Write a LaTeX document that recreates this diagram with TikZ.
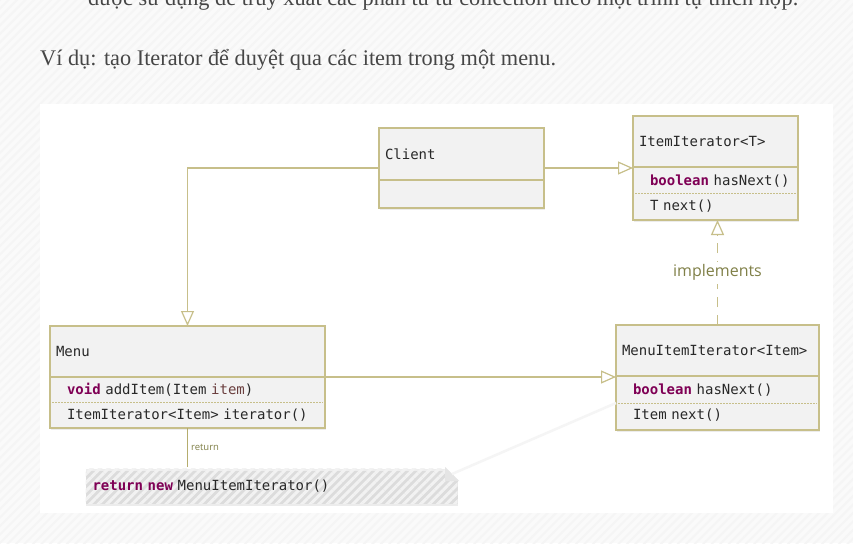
\documentclass[tikz,border=0pt]{standalone}
\usepackage{fontspec}
\setmainfont{Liberation Serif}
\newfontfamily\codefont{DejaVu Sans Mono}
\newfontfamily\labelfont{Open Sans}
\usetikzlibrary{positioning, arrows.meta, calc, shadows, patterns.meta}
\definecolor{umlline}{RGB}{199,191,138}
\definecolor{boxfill}{RGB}{242,242,242}
\definecolor{kwcolor}{RGB}{127,0,85}
\definecolor{argcolor}{RGB}{106,62,62}
\definecolor{lblcolor}{RGB}{128,128,72}
\definecolor{codegray}{RGB}{40,40,40}
\definecolor{bodygray}{RGB}{70,70,70}
\newcommand{\umlfont}{\codefont\fontsize{14pt}{25pt}\selectfont}
\newcommand{\kw}[1]{\textcolor{kwcolor}{\textbf{#1}}}
\newcommand{\argname}[1]{\textcolor{argcolor}{#1}}
\newcommand{\mbr}[1]{\hspace*{11pt}#1}

\begin{document}
\begin{tikzpicture}[x=1pt, y=-1pt,
    clshead/.style={draw=umlline, fill=boxfill, line width=1.6pt, outer sep=0pt,
        inner xsep=6pt, inner ysep=0pt, align=left, font=\umlfont, text=codegray,
        drop shadow={shadow xshift=1pt, shadow yshift=-2pt, opacity=0.15}},
    clsbody/.style={clshead},
    memberline/.style={draw=umlline, line width=0.9pt, dash pattern=on 1.5pt off 1.5pt, shorten <=2pt, shorten >=2pt},
    assoc/.style={draw=umlline, line width=1.2pt, -{Triangle[open, length=15pt, width=13pt, fill=white]}},
    realize/.style={assoc, dash pattern=on 10pt off 8pt},
    notebox/.style={preaction={fill=black!7}, pattern={Lines[angle=45, distance=6pt, line width=3pt]},
        pattern color=black!5, inner xsep=7pt, inner ysep=0pt, align=left, font=\umlfont, text=codegray,
        drop shadow={shadow xshift=0pt, shadow yshift=-2pt, opacity=0.15}}]

    \useasboundingbox (0,0) rectangle (853,543);
    % page background
    \fill[black!2] (0,0) rectangle (853,543);
    \fill[pattern={Lines[angle=45, distance=6pt, line width=2pt]}, pattern color=black!4] (0,0) rectangle (853,543);
    \fill[white] (40,104) rectangle (833,513);

    % text above the diagram
    \node[anchor=base west, inner sep=0pt, font=\fontsize{22.3pt}{26pt}\selectfont, text=bodygray] (intro) at (88,6)
        {được sử dụng để truy xuất các phần tử từ collection theo một trình tự thích hợp.};
    \node[anchor=base west, inner sep=0pt, font=\fontsize{22.3pt}{26pt}\selectfont, text=bodygray] (example) at (40,65)
        {Ví dụ: tạo Iterator để duyệt qua các item trong một menu.};

    % classes
    \node[clshead, text width=153pt, minimum height=52pt, anchor=north west] (client) at (379,128) {Client};
    \node[clsbody, text width=153pt, minimum height=28pt, below=0pt of client] (client-body) {};

    \node[clshead, text width=153pt, minimum height=51pt, anchor=north west] (iter) at (633,116) {ItemIterator<T>};
    \node[clsbody, text width=153pt, minimum height=53pt, below=0pt of iter] (iter-body)
        {\mbr{\kw{boolean} hasNext()}\\\mbr{T next()}};

    \node[clshead, text width=263pt, minimum height=51pt, anchor=north west] (menu) at (50,326) {Menu};
    \node[clsbody, text width=263pt, minimum height=51pt, below=0pt of menu] (menu-body)
        {\mbr{\kw{void} addItem(Item \argname{item})}\\\mbr{ItemIterator<Item> iterator()}};

    \node[clshead, text width=191pt, minimum height=51pt, anchor=north west] (mii) at (616,325) {MenuItemIterator<Item>};
    \node[clsbody, text width=191pt, minimum height=54pt, below=0pt of mii] (mii-body)
        {\mbr{\kw{boolean} hasNext()}\\\mbr{Item next()}};

    \draw[memberline] (iter-body.west) -- (iter-body.east);
    \draw[memberline] (menu-body.west) -- (menu-body.east);
    \draw[memberline] (mii-body.west) -- (mii-body.east);

    % note
    \node[notebox, text width=358pt, minimum height=35pt, anchor=north west] (note) at (84,467)
        {\kw{return} \kw{new} MenuItemIterator()};
    \fill[white] ($(note.north east)+(-14,0)$) -- (note.north east) -- ($(note.north east)+(0,14)$) -- cycle;
    \fill[black!10] ($(note.north east)+(-14,0)$) -- ($(note.north east)+(-14,14)$) -- ($(note.north east)+(0,14)$) -- cycle;
    \draw[black!4, line width=2.5pt] ($(note.north east)+(-7,7)$) -- (mii-body.west);
    \draw[draw={rgb,255:red,181;green,173;blue,110}, line width=1.2pt] (menu-body.south) -- (menu-body.south |- note.north)
        node[midway, right, inner sep=3pt, font=\labelfont\fontsize{9.5pt}{11pt}\selectfont, text=lblcolor] {return};

    % connectors
    \coordinate (client-w) at ($(client.north west)!0.5!(client-body.south west)$);
    \coordinate (client-e) at ($(client.north east)!0.5!(client-body.south east)$);
    \draw[assoc] (client-w) -| (menu.north);
    \draw[assoc] (client-e) -- (client-e -| iter.west);
    \draw[assoc] (menu.south east) -- (menu.south east -| mii.west);
    \draw[realize] (mii.north) -- (mii.north |- iter-body.south)
        node[midway, fill=white, inner sep=3pt, font=\labelfont\fontsize{16pt}{18pt}\selectfont, text=lblcolor] {implements};
\end{tikzpicture}
\end{document}
